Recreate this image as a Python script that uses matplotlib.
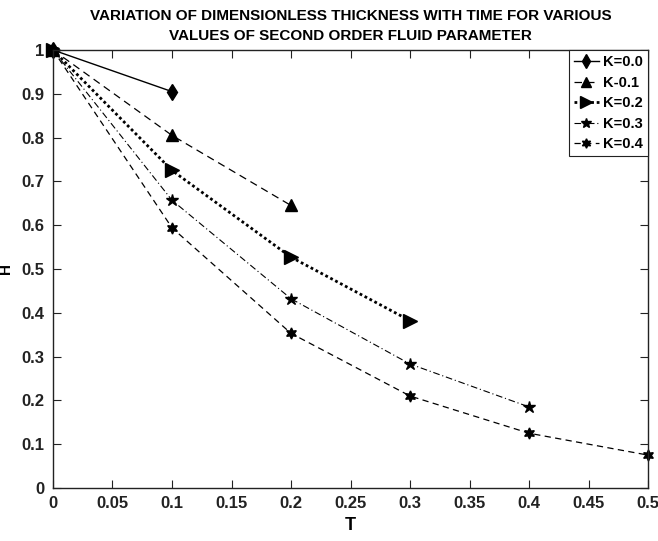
import matplotlib
matplotlib.use("Agg")
import matplotlib.pyplot as plt
from matplotlib import font_manager as fm

names = {f.name for f in fm.fontManager.ttflist}
fam = "Liberation Sans Narrow" if "Liberation Sans Narrow" in names else "Liberation Sans"
plt.rcParams['font.family'] = [fam, 'DejaVu Sans']
plt.rcParams['font.weight'] = 'bold'

T = [0.0, 0.1, 0.2, 0.3, 0.4, 0.5]
H_k00 = [1.0, 0.905]
H_k01 = [1.0, 0.805, 0.645]
H_k02 = [1.0, 0.725, 0.527, 0.382]
H_k03 = [1.0, 0.657, 0.432, 0.283, 0.185]
H_k04 = [1.0, 0.594, 0.353, 0.210, 0.125, 0.075]
labels = ["K=0.0", "K-0.1", "K=0.2", "K=0.3", "K=0.4"]
xticks = [0, 0.05, 0.1, 0.15, 0.2, 0.25, 0.3, 0.35, 0.4, 0.45, 0.5]
yticks = [0, 0.1, 0.2, 0.3, 0.4, 0.5, 0.6, 0.7, 0.8, 0.9, 1]
xticklabels = ["0", "0.05", "0.1", "0.15", "0.2", "0.25", "0.3", "0.35", "0.4", "0.45", "0.5"]
yticklabels = ["0", "0.1", "0.2", "0.3", "0.4", "0.5", "0.6", "0.7", "0.8", "0.9", "1"]

fig = plt.figure(figsize=(6.58, 5.41), dpi=100)
ax = fig.add_axes([0.0805, 0.098, 0.9045, 0.8096])

series = [H_k00, H_k01, H_k02, H_k03, H_k04]
styles = [
    dict(ls='-', marker='d', ms=8, lw=1.0),
    dict(ls=(0, (6, 4)), marker='^', ms=8, lw=0.9),
    dict(ls=(0, (1, 1)), marker='>', ms=10, lw=2.0),
    dict(ls=(0, (6, 2.5, 1, 2.5)), marker='*', ms=9, lw=0.8),
    dict(ls=(0, (5, 3.5)), marker=(6, 1, 0), ms=8, lw=0.9),
]
for h, lab, st in zip(series, labels, styles):
    ax.plot(T[:len(h)], h, color='black', label=lab, mfc='black', mec='black',
            clip_on=False, **st)

ax.set_xlim(0, 0.5)
ax.set_ylim(0, 1)
ax.set_xticks(xticks)
ax.set_yticks(yticks)
ax.set_xticklabels(xticklabels)
ax.set_yticklabels(yticklabels)
ax.tick_params(direction='in', top=True, right=True, length=6, width=0.8, labelsize=12,
               colors='#222222', pad=6)
for sp in ax.spines.values():
    sp.set_linewidth(1.0)
    sp.set_color('#222222')
ax.set_xlabel("T", fontsize=13, fontweight='bold', labelpad=4)
ax.set_ylabel("H", fontsize=11, fontweight='bold', labelpad=6)
ax.set_title("VARIATION OF DIMENSIONLESS THICKNESS WITH TIME FOR VARIOUS\nVALUES OF SECOND ORDER FLUID PARAMETER",
             fontsize=11, fontweight='bold', pad=7, linespacing=1.6)
leg = ax.legend(loc='upper right', fontsize=10.5, handlelength=1.7, handletextpad=0.3,
                borderpad=0.35, labelspacing=0.45, fancybox=False, framealpha=1,
                edgecolor='#222222', borderaxespad=0.0, markerscale=0.85)
leg.get_frame().set_linewidth(0.8)

fig.savefig("out.png", dpi=100)
